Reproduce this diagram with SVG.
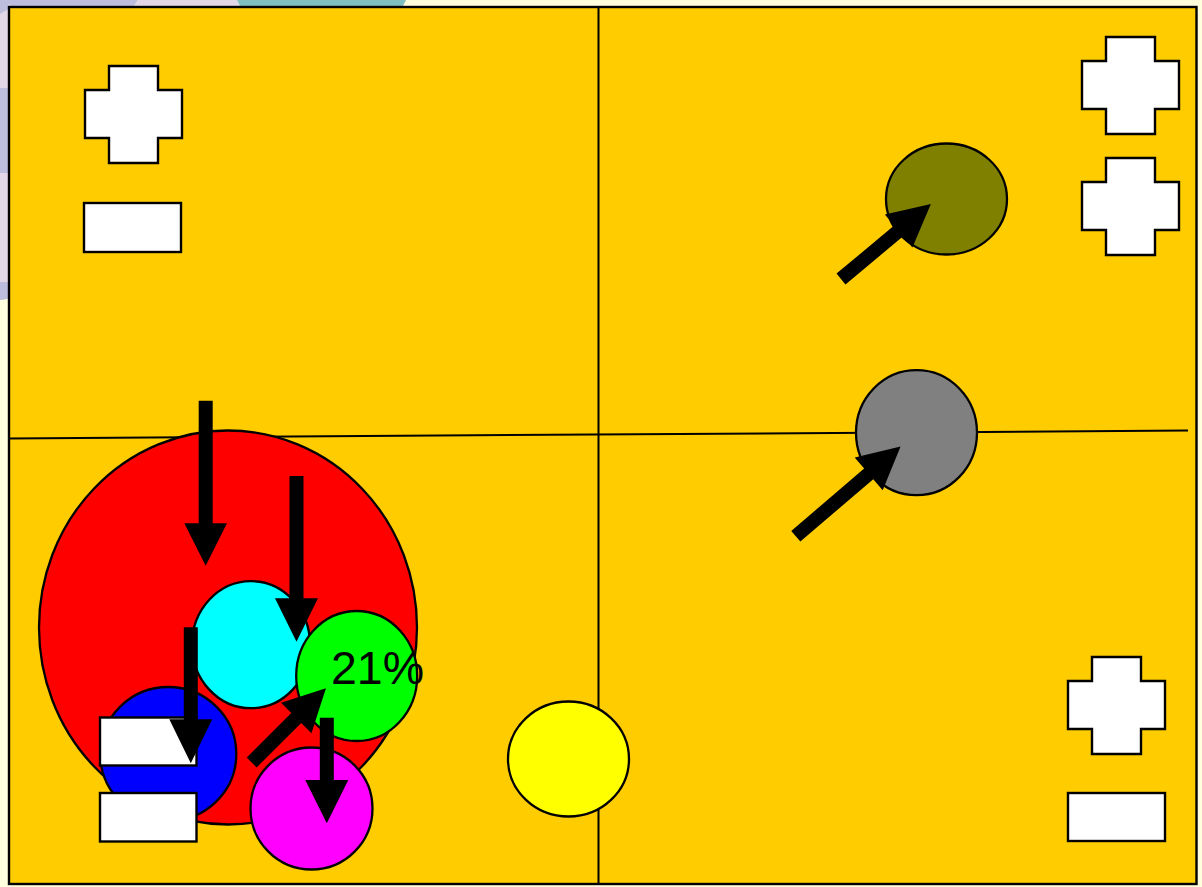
<svg xmlns="http://www.w3.org/2000/svg" width="1202" height="887" viewBox="0 0 1202 887">
<style>
.ln{stroke:#000;stroke-width:2;fill:none}
.sh{stroke:#000;stroke-width:2.3}
.wh{fill:#fff;stroke:#000;stroke-width:2.4}
.ar{fill:#000;stroke:none}
.lbl{font-family:"Liberation Sans",Arial,sans-serif;font-size:46.5px;fill:#000}
</style>
<defs>
<path id="cross" d="M24,0 H73 V24 H97 V72 H73 V97 H24 V72 H0 V24 H24 Z"/>
</defs>
<g id="background">
<rect x="0" y="0" width="1202" height="887" fill="#FFFFDD"/>
<polygon points="0,0 138,0 133,8 0,8" fill="#BDBDDD"/>
<polygon points="138,0 237,0 241,8 133,8" fill="#E3D7E7"/>
<polygon points="237,0 406,0 402,8 241,8" fill="#80C0C0"/>
<rect x="0" y="4" width="10" height="84" fill="#E3D7E7"/>
<polygon points="0,0 6,0 10,8 0,14" fill="#BDBDDD"/>
<rect x="0" y="88" width="10" height="85" fill="#BDBDDD"/>
<rect x="0" y="173" width="10" height="109" fill="#E3D7E7"/>
<path d="M0,282 H10 V298 Q5,300 0,300 Z" fill="#BDBDDD"/>
</g>
<g id="frame">
<rect x="9" y="7" width="1187.5" height="877" fill="#FFCC00" stroke="#000" stroke-width="2.4"/>
</g>
<g id="connectors">
<line class="ln" x1="598.5" y1="7" x2="598.5" y2="884"/>
<line class="ln" x1="9" y1="438.5" x2="1188" y2="430.5"/>
</g>
<g id="node-cross-tl"><use href="#cross" class="wh" x="85" y="66"/></g>
<g id="node-rect-tl"><rect class="wh" x="84" y="203" width="97" height="49"/></g>
<g id="node-cross-tr1"><use href="#cross" class="wh" x="1082" y="37"/></g>
<g id="node-cross-tr2"><use href="#cross" class="wh" x="1082" y="158"/></g>
<g id="node-cross-br"><use href="#cross" class="wh" x="1068" y="657"/></g>
<g id="node-rect-br"><rect class="wh" x="1068" y="793" width="97" height="48"/></g>
<g id="node-olive"><ellipse class="sh" cx="946.5" cy="199" rx="60.5" ry="55.5" fill="#808000"/></g>
<g id="node-gray"><ellipse class="sh" cx="916.5" cy="432.7" rx="60.5" ry="62.5" fill="#808080"/></g>
<g id="node-yellow"><ellipse class="sh" cx="568.5" cy="759" rx="60.5" ry="57.5" fill="#FFFF00"/></g>
<g id="node-red"><ellipse class="sh" cx="228" cy="627.5" rx="189" ry="197" fill="#FF0000"/></g>
<g id="node-cyan"><ellipse class="sh" cx="251" cy="644.7" rx="59" ry="63.5" fill="#00FFFF"/></g>
<g id="node-green"><ellipse class="sh" cx="356.7" cy="676" rx="60.5" ry="65" fill="#00FF00"/></g>
<g id="node-blue"><ellipse class="sh" cx="168.3" cy="754" rx="68" ry="67" fill="#0000FF"/></g>
<g id="node-magenta"><ellipse class="sh" cx="311.5" cy="808.5" rx="61" ry="61" fill="#FF00FF"/></g>
<g id="label-21"><text class="lbl" x="331" y="684">21%</text></g>
<g id="node-rect-a"><rect class="wh" x="100" y="717.5" width="96.5" height="48"/></g>
<g id="node-rect-b"><rect class="wh" x="100" y="793" width="96.5" height="48.5"/></g>
<g id="arrows">
<polygon class="ar" points="198.7,400.7 212.7,400.7 212.7,523.3 227,523.3 205.7,565.7 184.3,523.3 198.7,523.3"/>
<polygon class="ar" points="289.5,476 303.5,476 303.5,598.3 318,598.3 296.5,641.7 275,598.3 289.5,598.3"/>
<polygon class="ar" points="183.8,627.3 197.8,627.3 197.8,719.3 212.3,719.3 190.8,763.3 169.3,719.3 183.8,719.3"/>
<polygon class="ar" points="319.8,717.7 333.8,717.7 333.8,780 348.3,780 326.8,823.3 305.3,780 319.8,780"/>
<polygon class="ar" transform="translate(251.7,762.5) rotate(-45)" points="0,-7 63,-7 63,-21.5 105,0 63,21.5 63,7 0,7"/>
<polygon class="ar" transform="translate(841,279) rotate(-39.8)" points="0,-7 75,-7 75,-21.5 117,0 75,21.5 75,7 0,7"/>
<polygon class="ar" transform="translate(795.8,536.3) rotate(-40.6)" points="0,-7 96,-7 96,-21.5 138,0 96,21.5 96,7 0,7"/>
</g>
</svg>
